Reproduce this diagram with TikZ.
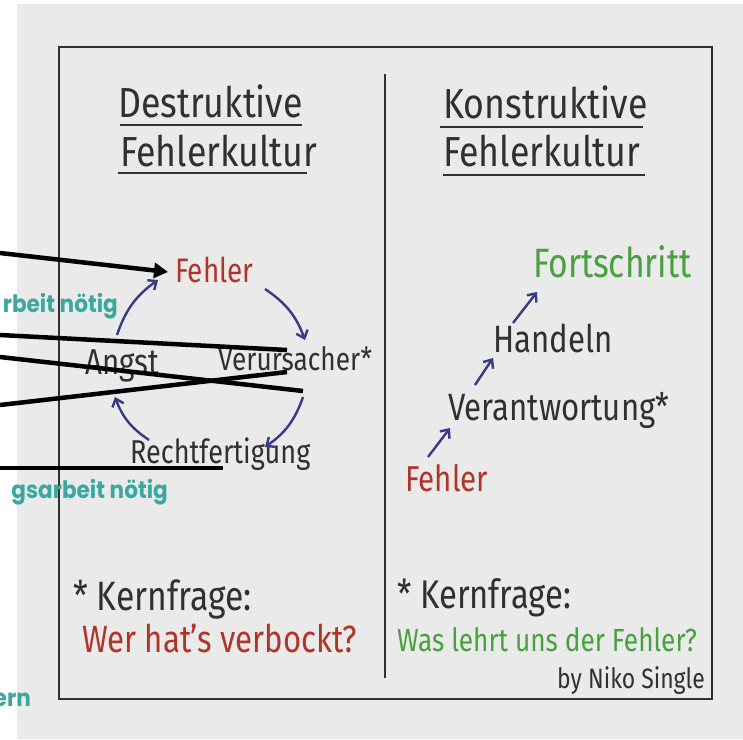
\documentclass[tikz,border=0pt]{standalone}
\usepackage{fontspec}
\setmainfont{Fira Sans}
\newfontfamily\tealfont{Poppins}
\usetikzlibrary{arrows.meta}

\definecolor{papier}{RGB}{234,234,234}
\definecolor{tinte}{RGB}{48,48,48}
\definecolor{rot}{RGB}{176,52,40}
\definecolor{gruen}{RGB}{72,160,62}
\definecolor{blau}{RGB}{56,58,132}
\definecolor{tuerkis}{RGB}{58,168,158}

\tikzset{
  titel/.style={font=\fontsize{42}{42}\selectfont, xscale=0.85},
  hand/.style={font=\fontsize{#1}{#1}\selectfont, xscale=0.82},
  pfeil/.style={blau, line width=2.4pt, -{Straight Barb[length=7pt,width=12pt]}},
  hinweis/.style={black, line width=4.5pt},
  notiz/.style={tuerkis, font=\tealfont\bfseries\fontsize{24}{24}\selectfont, xscale=0.9, anchor=base east, inner sep=0pt}
}

\begin{document}
\begin{tikzpicture}[x=1pt, y=-1pt]
		\useasboundingbox (0,0) rectangle (743,739);
		\clip (0,0) rectangle (743,739);
		\fill[white] (0,0) rectangle (743,739);
		\fill[papier] (17,4) rectangle (743,739);
		\draw[tinte, line width=2.4pt] (59,47) rectangle (712,699);
		\draw[tinte, line width=2pt] (385,74) -- (385,678);

		\begin{scope}[every node/.style={inner sep=0pt, anchor=base west, text=tinte}]
			\node[titel] (D1) at (118,117) {Destruktive};
			\node[titel] (D2) at (120,166) {Fehlerkultur};
			\node[titel] (K1) at (443,118) {Konstruktive};
			\node[titel] (K2) at (443,166) {Fehlerkultur};

			\node[hand=34, text=rot] (FL) at (175,282) {Fehler};
			\node[hand=32] (VU) at (218,370) {Verursacher*};
			\node[hand=33] (RF) at (130,463) {Rechtfertigung};
			\node[hand=36] (AN) at (85,374) {Angst};

			\node[hand=41, text=gruen] (FS) at (533,277) {Fortschritt};
			\node[hand=38] (HA) at (493,352) {Handeln};
			\node[hand=38] (VA) at (448,420) {Verantwortung*};
			\node[hand=36, text=rot] (FR) at (405,491) {Fehler};

			\node[hand=41] (KL) at (73,610) {* Kernfrage:};
			\node[hand=38, text=rot] (WL) at (82,652) {Wer hat's verbockt?};
			\node[hand=40] (KR) at (397,608) {* Kernfrage:};
			\node[hand=32, text=gruen] (WR) at (397,651) {Was lehrt uns der Fehler?};
			\node[hand=28] (BY) at (557,688) {by Niko Single};
		\end{scope}

		\begin{scope}[tinte, line width=2.6pt]
			\draw (120,125) -- (302,125);
			\draw (118,173) -- (307,173);
			\draw (440,127) -- (643,127);
			\draw (443,175) -- (645,175);
		\end{scope}

		\begin{scope}
			\draw[pfeil] ([shift={(90,7)}]FL.base west) to[bend left=18] ([shift={(87,-30)}]VU.base west);
			\draw[pfeil] ([shift={(85,27)}]VU.base west) to[bend left=18] ([shift={(135,-16)}]RF.base west);
			\draw[pfeil] ([shift={(19,-23)}]RF.base west) to[bend left=18] ([shift={(30,23)}]AN.base west);
			\draw[pfeil] ([shift={(32,-39)}]AN.base west) to[bend left=18] ([shift={(-17,-2)}]FL.base west);

			\draw[pfeil] ([shift={(23,-34)}]FR.base west) -- ([shift={(2,8)}]VA.base west);
			\draw[pfeil] ([shift={(27,-35)}]VA.base west) -- ([shift={(0,6)}]HA.base west);
			\draw[pfeil] ([shift={(20,-29)}]HA.base west) -- ([shift={(4,15)}]FS.base west);
		\end{scope}

		\begin{scope}
			\coordinate (s1) at (0,253);
			\coordinate (s2) at (0,335);
			\coordinate (s3) at (0,357);
			\coordinate (s4) at (0,405);
			\coordinate (s5) at (0,468);
			\draw[hinweis, -{Triangle[length=14pt,width=15pt]}] (s1) -- ([shift={(-7,-10)}]FL.base west);
			\draw[hinweis] (s2) -- ([shift={(69,-20)}]VU.base west);
			\draw[hinweis] (s3) -- ([shift={(85,21)}]VU.base west);
			\draw[hinweis] (s4) -- ([shift={(69,2)}]VU.base west);
			\draw[hinweis] (s5) -- ([shift={(93,5)}]RF.base west);
		\end{scope}

		\node[notiz] (N1) at (118,312) {rbeit nötig};
		\node[notiz] (N2) at (168,498) {gsarbeit nötig};
		\node[notiz] (N3) at (31,706) {ern};
		\end{tikzpicture}
\end{document}
